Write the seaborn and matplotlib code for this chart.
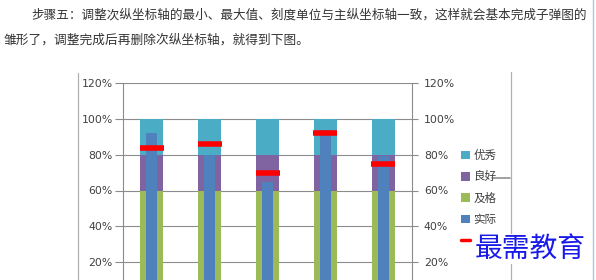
import matplotlib
matplotlib.use("Agg")
import matplotlib.pyplot as plt
import seaborn as sns
import pandas as pd
from matplotlib.patches import Patch
from matplotlib.lines import Line2D

# ---- data ----
categories = ["A", "B", "C", "D", "E"]
pass_band = [0.60, 0.60, 0.60, 0.60, 0.60]       # 及格
good_band = [0.20, 0.20, 0.20, 0.20, 0.20]       # 良好
excellent_band = [0.20, 0.20, 0.20, 0.20, 0.20]  # 优秀
actual = [0.92, 0.80, 0.65, 0.94, 0.79]          # 实际
target = [0.84, 0.86, 0.70, 0.92, 0.75]          # 目标
y_ticks = [0.2, 0.4, 0.6, 0.8, 1.0, 1.2]
legend_labels = ["优秀", "良好", "及格", "实际", "目标"]
para_line1 = "步骤五：调整次纵坐标轴的最小、最大值、刻度单位与主纵坐标轴一致，这样就会基本完成子弹图的"
para_line2 = "雏形了，调整完成后再删除次纵坐标轴，就得到下图。"
watermark = "最需教育"

c_exc, c_good, c_pass, c_act, c_tgt = "#4BACC6", "#8064A2", "#9BBB59", "#4F81BD", "#FF0000"
grid_c = "#8C8C8C"
txt_c = "#404040"

sns.set_theme(style="white")
plt.rcParams["font.family"] = ["DejaVu Sans", "Noto Sans CJK SC"]
cjk = ["Noto Sans CJK SC", "DejaVu Sans"]

df = pd.DataFrame({"cat": categories, "pass": pass_band, "good": good_band,
                   "exc": excellent_band, "actual": actual, "target": target})
df["lvl_pass"] = df["pass"]
df["lvl_good"] = df["pass"] + df["good"]
df["lvl_exc"] = df["lvl_good"] + df["exc"]

W, H = 596, 280
fig = plt.figure(figsize=(W / 100, H / 100), dpi=100)
fig.patch.set_facecolor("white")

# axes so that 0% sits below the visible area (chart is cropped)
y0_px, y120_px = 298, 83
left_px, right_px = 123, 412
ax = fig.add_axes([left_px / W, (H - y0_px) / H, (right_px - left_px) / W, (y0_px - y120_px) / H])

for col, c in [("lvl_exc", c_exc), ("lvl_good", c_good), ("lvl_pass", c_pass)]:
    sns.barplot(data=df, x="cat", y=col, color=c, width=0.40, saturation=1,
                ax=ax, zorder=2, linewidth=0)
sns.barplot(data=df, x="cat", y="actual", color=c_act, width=0.19, saturation=1,
            ax=ax, zorder=3, linewidth=0)
sns.scatterplot(data=df, x="cat", y="target", marker="_", s=290, color=c_tgt,
                linewidth=4.0, ax=ax, zorder=4, legend=False)

ax.set_xlim(-0.5, 4.5)
ax.set_ylim(0, 1.2)
ax.set_yticks(y_ticks)
ax.set_yticklabels([f"{int(round(v*100))}%" for v in y_ticks])
ax.set_xticks([])
ax.set_xlabel("")
ax.set_ylabel("")
ax.grid(axis="y", color=grid_c, linewidth=0.8)
ax.set_axisbelow(True)
for s in ["top", "bottom", "right"]:
    ax.spines[s].set_visible(False)
ax.spines["left"].set_color(grid_c)
ax.spines["left"].set_linewidth(0.8)
ax.tick_params(axis="y", left=True, length=5.5, width=0.8, color=grid_c,
               labelsize=7.8, labelcolor=txt_c, pad=2)

ax2 = ax.twinx()
ax2.set_ylim(0, 1.2)
ax2.set_yticks(y_ticks)
ax2.set_yticklabels([f"{int(round(v*100))}%" for v in y_ticks])
for s in ["top", "bottom", "left"]:
    ax2.spines[s].set_visible(False)
ax2.spines["right"].set_color(grid_c)
ax2.spines["right"].set_linewidth(0.8)
ax2.tick_params(axis="y", right=True, length=4.5, width=0.8, color=grid_c,
                labelsize=7.8, labelcolor=txt_c, pad=4)
ax2.grid(False)

# chart frame lines
def fx(px): return px / W
def fy(py): return (H - py) / H
frame_c = "#B0B0B0"
fig.add_artist(Line2D([fx(77.5), fx(77.5)], [fy(73), fy(281)], color=frame_c, lw=0.9))
fig.add_artist(Line2D([fx(510.5), fx(510.5)], [fy(72), fy(281)], color=frame_c, lw=0.9))
fig.add_artist(Line2D([fx(492), fx(510)], [fy(178), fy(178)], color="#909090", lw=1.2))
fig.add_artist(Line2D([fx(592.5), fx(592.5)], [fy(-1), fy(281)], color="#A9C6E6", lw=1.0))

# legend
handles = [Patch(facecolor=c_exc, edgecolor="none"),
           Patch(facecolor=c_good, edgecolor="none"),
           Patch(facecolor=c_pass, edgecolor="none"),
           Patch(facecolor=c_act, edgecolor="none"),
           Line2D([0], [0], color=c_tgt, lw=2.5)]
leg = fig.legend(handles, legend_labels, loc="upper left",
                 bbox_to_anchor=(fx(461), fy(149)), frameon=False,
                 prop={"family": cjk, "size": 8.3}, handlelength=0.75, handleheight=0.75,
                 handletextpad=0.35, labelspacing=0.72, borderpad=0, borderaxespad=0)
for t in leg.get_texts():
    t.set_color(txt_c)

# paragraph text
fig.text(fx(31), fy(15), para_line1, family=cjk, fontsize=9.05, color="#333333",
         ha="left", va="center")
fig.text(fx(4), fy(40.5), para_line2, family=cjk, fontsize=9.15, color="#333333",
         ha="left", va="center")

# watermark (covers most of the last legend label, as in the source screenshot)
fig.text(fx(530), fy(249), watermark, family=cjk, fontsize=20, color="#1A1AE8",
         ha="center", va="center",
         bbox=dict(facecolor="white", edgecolor="none", pad=0.2), zorder=10)

fig.savefig("out.png", dpi=100, facecolor="white")
